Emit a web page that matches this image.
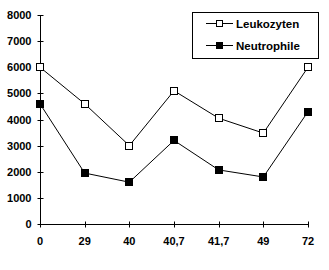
<!DOCTYPE html>
<html>
<head>
<meta charset="utf-8">
<script src="https://cdn.jsdelivr.net/npm/d3@7"></script>
<style>
  body { margin: 0; background: #fff; }
  svg { display: block; }
  text { font-family: "Liberation Sans", Arial, sans-serif; font-weight: bold; }
</style>
</head>
<body>
<div class="chart"></div>
<script>
const categories = ['0', '29', '40', '40,7', '41,7', '49', '72'];
const leukozyten = [6000, 4600, 3000, 5100, 4050, 3480, 6000];
const neutrophile = [4600, 1950, 1600, 3200, 2070, 1800, 4300];
const yTicks = [0, 1000, 2000, 3000, 4000, 5000, 6000, 7000, 8000];

const width = 329;
const height = 270;
const margin = { top: 15, right: 21, bottom: 46, left: 40 };

const svg = d3
  .select('.chart')
  .append('svg')
  .attr('width', width)
  .attr('height', height);

const xScale = d3
  .scalePoint()
  .domain(categories)
  .range([margin.left, width - margin.right]);
const yScale = d3
  .scaleLinear()
  .domain([0, 8000])
  .range([height - margin.bottom, margin.top]);

// y axis
const yAxis = svg.append('g').attr('transform', `translate(${margin.left + 0.5}, 0)`);
yAxis
  .append('line')
  .attr('y1', yScale(8000))
  .attr('y2', yScale(0))
  .attr('stroke', '#000');
yAxis
  .selectAll('line.tick')
  .data(yTicks)
  .enter()
  .append('line')
  .attr('class', 'tick')
  .attr('x1', -3)
  .attr('x2', 3)
  .attr('y1', d => Math.round(yScale(d)) + 0.5)
  .attr('y2', d => Math.round(yScale(d)) + 0.5)
  .attr('stroke', '#000');
yAxis
  .selectAll('text')
  .data(yTicks)
  .enter()
  .append('text')
  .attr('x', -9)
  .attr('y', d => yScale(d) + 4)
  .attr('text-anchor', 'end')
  .style('font-size', '11px')
  .text(d => d);

// x axis
const xAxis = svg.append('g').attr('transform', `translate(0, ${Math.round(yScale(0)) + 0.5})`);
xAxis
  .append('line')
  .attr('x1', margin.left)
  .attr('x2', width - margin.right)
  .attr('stroke', '#000');
xAxis
  .selectAll('line.tick')
  .data(categories)
  .enter()
  .append('line')
  .attr('class', 'tick')
  .attr('x1', d => Math.round(xScale(d)) + 0.5)
  .attr('x2', d => Math.round(xScale(d)) + 0.5)
  .attr('y1', -3)
  .attr('y2', 3)
  .attr('stroke', '#000');
xAxis
  .selectAll('text')
  .data(categories)
  .enter()
  .append('text')
  .attr('x', d => xScale(d))
  .attr('y', 20)
  .attr('text-anchor', 'middle')
  .style('font-size', '11px')
  .text(d => d);

// series
const line = d3
  .line()
  .x((d, i) => xScale(categories[i]))
  .y(d => yScale(d));

const series = [
  { name: 'Leukozyten', values: leukozyten, fill: '#fff' },
  { name: 'Neutrophile', values: neutrophile, fill: '#000' },
];

series.forEach(s => {
  svg
    .append('path')
    .attr('d', line(s.values))
    .attr('fill', 'none')
    .attr('stroke', '#000')
    .attr('stroke-width', 1);
  svg
    .selectAll(null)
    .data(s.values)
    .enter()
    .append('rect')
    .attr('x', (d, i) => Math.round(xScale(categories[i])) - 3.5)
    .attr('y', d => Math.round(yScale(d)) - 3.5)
    .attr('width', 7)
    .attr('height', 7)
    .attr('fill', s.fill)
    .attr('stroke', '#000');
});

// Legend
const legend = svg.append('g');
legend
  .append('rect')
  .attr('x', 192.5)
  .attr('y', 12.5)
  .attr('width', 126)
  .attr('height', 46)
  .attr('fill', '#fff')
  .attr('stroke', '#000');

series.forEach((s, i) => {
  const y = 23.5 + i * 22;
  legend
    .append('line')
    .attr('x1', 206)
    .attr('x2', 233)
    .attr('y1', y)
    .attr('y2', y)
    .attr('stroke', '#000');
  legend
    .append('rect')
    .attr('x', 216.5)
    .attr('y', y - 3)
    .attr('width', 6)
    .attr('height', 6)
    .attr('fill', s.fill)
    .attr('stroke', '#000');
  legend
    .append('text')
    .attr('x', 236)
    .attr('y', y + 4)
    .style('font-size', '11.5px')
    .text(s.name);
});
</script>
</body>
</html>
